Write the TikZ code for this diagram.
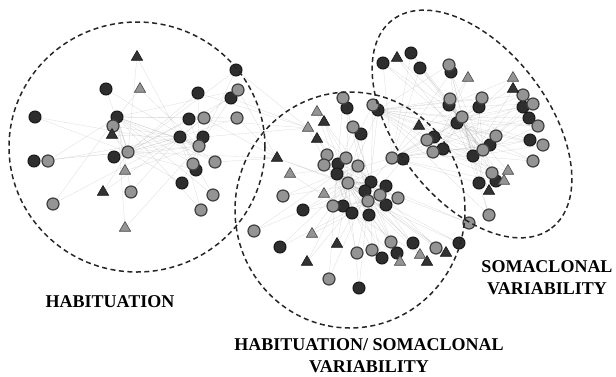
\documentclass[tikz,border=0pt]{standalone}
\usepackage{fontspec}
\setmainfont{Liberation Serif}
\usetikzlibrary{shapes.geometric, backgrounds}
\tikzset{
  % --- network vertices ---
  darkdot/.style={circle, draw=black!90, fill=black!82, line width=1pt,
    minimum size=12pt, inner sep=0pt},
  greydot/.style={darkdot, fill=black!42, draw=black!75, line width=1.2pt},
  darktri/.style={regular polygon, regular polygon sides=3, draw=black!90,
    fill=black!80, line width=0.6pt, minimum size=13pt, inner sep=0pt},
  greytri/.style={darktri, fill=black!42, draw=black!70},
  % --- interactions and groups ---
  link/.style={black!35, line width=0.3pt, opacity=0.4},
  groupring/.style={draw=black!85, dashed, dash pattern=on 5pt off 3.5pt,
    line width=1.5pt},
  grouplbl/.style={font=\fontsize{18}{22}\selectfont\bfseries, align=center,
    inner sep=0pt},
}

\begin{document}
\begin{tikzpicture}[x=1pt, y=-1pt]
    \useasboundingbox (0,0) rectangle (616,376);
    % habituation vertices
    \foreach \x/\y [count=\i] in {236/70, 106/89, 198/93, 231/98, 35/117, 117/117, 189/119,
      180/137, 203/137, 34/161, 114/157, 196/170, 182/183}
      \node[darkdot] (hd\i) at (\x,\y) {};
    \foreach \x/\y [count=\i] in {238/90, 113/126, 204/118, 237/118, 199/146, 48/161, 128/152,
      193/164, 215/162, 131/192, 213/195, 53/204, 201/210}
      \node[greydot] (hg\i) at (\x,\y) {};
    \foreach \x/\y [count=\i] in {137/57, 112/135, 103/192}
      \node[darktri] (ht\i) at (\x,\y) {};
    \foreach \x/\y [count=\i] in {140/89, 125/171, 125/228}
      \node[greytri] (hu\i) at (\x,\y) {};
    % shared vertices
    \foreach \x/\y [count=\i] in {347/108, 378/110, 361/134, 338/164, 337/174, 403/159, 371/182,
      365/191, 386/186, 386/205, 303/210, 343/206, 352/213, 369/215, 280/247, 397/253,
      413/243, 459/243, 359/288, 382/258}
      \node[darkdot] (md\i) at (\x,\y) {};
    \foreach \x/\y [count=\i] in {343/98, 373/105, 353/127, 327/155, 324/165, 346/158, 358/166,
      392/158, 348/183, 380/195, 398/198, 368/201, 283/196, 333/206, 254/231, 357/253,
      372/250, 391/242, 436/248, 469/223, 329/279}
      \node[greydot] (mg\i) at (\x,\y) {};
    \foreach \x/\y [count=\i] in {324/122, 317/139, 277/158, 337/244, 307/262, 427/262, 446/253}
      \node[darktri] (mt\i) at (\x,\y) {};
    \foreach \x/\y [count=\i] in {317/112, 308/128, 290/174, 324/194, 312/234, 400/262, 420/255}
      \node[greytri] (mu\i) at (\x,\y) {};
    % somaclonal vertices
    \foreach \x/\y [count=\i] in {383/63, 411/53, 420/68, 451/72, 523/107, 529/118, 530/140,
      449/105, 479/107, 457/123, 434/137, 443/149, 490/145, 473/156, 496/181, 479/183}
      \node[darkdot] (sd\i) at (\x,\y) {};
    \foreach \x/\y [count=\i] in {449/65, 523/95, 533/104, 538/126, 543/145, 533/161, 450/99,
      482/98, 462/117, 427/140, 433/152, 496/136, 483/150, 492/173, 489/215}
      \node[greydot] (sg\i) at (\x,\y) {};
    \foreach \x/\y [count=\i] in {397/58, 513/89, 419/126, 489/191}
      \node[darktri] (st\i) at (\x,\y) {};
    \foreach \x/\y [count=\i] in {468/78, 513/78, 508/171, 504/181}
      \node[greytri] (su\i) at (\x,\y) {};
    % interactions
    \begin{scope}[on background layer]
      \foreach \i in {1,...,13}{ \draw[link] (hd\i) -- (hg7) (hd\i) -- (hg5) (hg\i) -- (hd8) (hg\i) -- (hd6); }
      \foreach \i in {1,...,3}{ \draw[link] (ht\i) -- (hg7) (ht\i) -- (hd8) (hu\i) -- (hg5) (hu\i) -- (hd6); }
      \foreach \i in {1,3,4,7,9}{ \draw[link] (hd\i) -- (mu2) (hg\i) -- (mt3); }
      \foreach \i in {1,...,20}{ \draw[link] (md\i) -- (mg9) (md\i) -- (mg12); }
      \foreach \i in {1,...,21}{ \draw[link] (mg\i) -- (md7) (mg\i) -- (md5); }
      \foreach \i in {1,...,7}{ \draw[link] (mt\i) -- (mg9) (mt\i) -- (md8) (mu\i) -- (mg7) (mu\i) -- (md13); }
      \foreach \i in {1,...,16}{ \draw[link] (sd\i) -- (sg9) (sd\i) -- (sg13) (sd\i) -- (mg8); }
      \foreach \i in {1,...,15}{ \draw[link] (sg\i) -- (sd10) (sg\i) -- (sd14) (sg\i) -- (md2); }
      \foreach \i in {1,...,4}{ \draw[link] (st\i) -- (sg9) (st\i) -- (sd14) (su\i) -- (sg11) (su\i) -- (sd8); }
    \end{scope}
    % groups
    \draw[groupring] (137,147) ellipse [x radius=128pt, y radius=125pt];
    \draw[groupring] (350,210) ellipse [x radius=115pt, y radius=118pt];
    \draw[groupring, rotate around={-52.6:(472,124)}] (472,124) ellipse [x radius=131pt, y radius=76pt];
    % labels
    \node[grouplbl] (habLbl) at (110,302) {HABITUATION};
    \node[grouplbl] (somLbl) at (547,278) {SOMACLONAL\\VARIABILITY};
    \node[grouplbl] (bothLbl) at (369,356) {HABITUATION/ SOMACLONAL\\VARIABILITY};
\end{tikzpicture}
\end{document}
